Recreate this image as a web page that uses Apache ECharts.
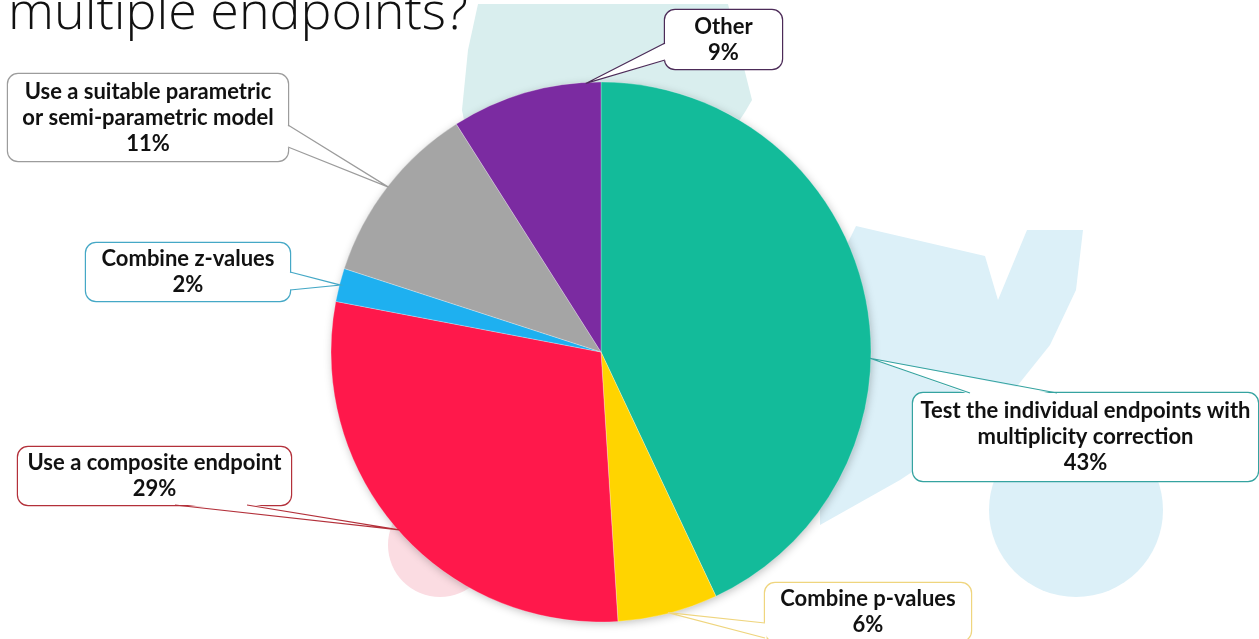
<!DOCTYPE html>
<html><head><meta charset="utf-8">
<script src="https://cdn.jsdelivr.net/npm/echarts@6/dist/echarts.min.js"></script>
<style>html,body{margin:0;padding:0;background:#fff;overflow:hidden}#c{width:1259px;height:639px}</style>
</head><body><div id="c"></div>
<script>
// ---- data ----
const titleText = 'multiple endpoints?';
const categories = [
  'Test the individual endpoints with\nmultiplicity correction',
  'Combine p-values',
  'Use a composite endpoint',
  'Combine z-values',
  'Use a suitable parametric\nor semi-parametric model',
  'Other'
];
const values = [43, 6, 29, 2, 11, 9];
const sliceColors = ['#13bb9a', '#ffd400', '#ff184b', '#1eb0f0', '#a5a5a5', '#7b2ba1'];
const calloutBorders = ['#35a3a0', '#efd57e', '#b3303a', '#45a8c6', '#9c9c9c', '#4c2b58'];

// ---- layout (callout boxes, pointer geometry) ----
const LH = 26;
const boxes = [
  {x: 913, y: 393, w: 345, h: 88, side: 'top',    b: [970, 1057], tip: 0.59},
  {x: 765, y: 583, w: 206, h: 58, side: 'left',   b: [623, 638],  tip: 0.5},
  {x: 18,  y: 447, w: 273, h: 58, side: 'bottom', b: [175, 247],  tip: 0.5},
  {x: 86,  y: 243, w: 204, h: 58, side: 'right',  b: [272, 290],  tip: 0.5},
  {x: 8,   y: 74,  w: 280, h: 87, side: 'right',  b: [125, 147],  tip: 0.5},
  {x: 665, y: 10,  w: 117, h: 59, side: 'left',   b: [43, 60],    tip: 0.9}
];

const chart = echarts.init(document.getElementById('c'), null, {renderer: 'canvas'});

const bgShapes = [
  {type: 'polygon', id: 'bg1', z: 0, silent: true,
   shape: {points: [[478,4],[728,4],[752,100],[745,112],[720,150],[470,150],[462,110],[468,50]]},
   style: {fill: '#d9eeee'}},
  {type: 'polygon', id: 'bg2', z: 0, silent: true,
   shape: {points: [[856,226],[985,256],[998,300],[1027,230],[1083,230],[1076,290],[1050,345],[1010,395],[960,440],[900,480],[820,525],[820,300]]},
   style: {fill: '#dcf0f8'}},
  {type: 'circle', id: 'bg3', z: 0, silent: true,
   shape: {cx: 1076, cy: 510, r: 87}, style: {fill: '#dcf0f8'}},
  {type: 'circle', id: 'bg4', z: 0, silent: true,
   shape: {cx: 440, cy: 545, r: 52}, style: {fill: '#fbdce2'}},
  {type: 'text', id: 'title', z: 1, silent: true, x: 8, y: 40,
   style: {text: titleText, font: '300 52px "Open Sans"', fill: '#111', verticalAlign: 'bottom'}}
];

const seriesData = categories.map((name, i) => {
  const b = boxes[i];
  const lines = (name + '\nx').split('\n').length;
  const pv = Math.max(0, (b.h - lines * LH) / 2);
  const ph = 4;
  return {
    name: name,
    value: values[i],
    itemStyle: {color: sliceColors[i]},
    label: {
      width: b.w - 2 * ph,
      padding: [pv, ph],
      borderColor: calloutBorders[i]
    }
  };
});

const option = {
  animation: false,
  backgroundColor: '#fff',
  graphic: {elements: bgShapes},
  series: [{
    type: 'pie',
    z: 5,
    center: [601, 352],
    radius: 270,
    startAngle: 90,
    clockwise: true,
    avoidLabelOverlap: false,
    itemStyle: {borderColor: 'rgba(255,255,255,0.45)', borderWidth: 0.6},
    label: {
      show: true,
      position: 'outside',
      overflow: 'none',
      formatter: p => p.name + '\n' + p.value + '%',
      fontFamily: 'Lato',
      fontWeight: 'bold',
      fontSize: 22,
      lineHeight: LH,
      color: '#111',
      align: 'center',
      backgroundColor: '#fff',
      borderWidth: 1.2,
      borderRadius: 10
    },
    labelLine: {show: false},
    labelLayout: function (params) {
      const b = boxes[params.dataIndex];
      return {x: b.x + b.w / 2, y: b.y + b.h / 2, align: 'center', verticalAlign: 'middle'};
    },
    emphasis: {disabled: true},
    data: seriesData
  }]
};
chart.setOption(option);

function basePoints(b) {
  const e = 1.6;
  if (b.side === 'top') return [[b.b[0], b.y], [b.b[1], b.y], [b.b[0], b.y + e], [b.b[1], b.y + e]];
  if (b.side === 'bottom') return [[b.b[0], b.y + b.h], [b.b[1], b.y + b.h], [b.b[0], b.y + b.h - e], [b.b[1], b.y + b.h - e]];
  if (b.side === 'left') return [[b.x, b.b[0]], [b.x, b.b[1]], [b.x + e, b.b[0]], [b.x + e, b.b[1]]];
  return [[b.x + b.w, b.b[0]], [b.x + b.w, b.b[1]], [b.x + b.w - e, b.b[0]], [b.x + b.w - e, b.b[1]]];
}

function drawPointers() {
  const data = chart.getModel().getSeriesByIndex(0).getData();
  const els = bgShapes.slice();
  const L0 = data.getItemLayout(0);
  els.push({type: 'circle', id: 'pieShadow', z: 1, silent: true,
    shape: {cx: L0.cx, cy: L0.cy, r: L0.r - 1},
    style: {fill: '#fff', shadowBlur: 10, shadowColor: 'rgba(0,0,0,0.28)', shadowOffsetX: 1, shadowOffsetY: 2}});
  boxes.forEach((b, i) => {
    const L = data.getItemLayout(i);
    const a = L.startAngle + b.tip * (L.endAngle - L.startAngle);
    const tx = L.cx + (L.r - 1) * Math.cos(a);
    const ty = L.cy + (L.r - 1) * Math.sin(a);
    const p = basePoints(b);
    els.push({type: 'polygon', id: 'wf' + i, z: 100, silent: true,
      shape: {points: [p[2], [tx, ty], p[3]]}, style: {fill: '#fff'}});
    els.push({type: 'polyline', id: 'wl' + i, z: 101, silent: true,
      shape: {points: [p[0], [tx, ty], p[1]]},
      style: {stroke: calloutBorders[i], lineWidth: 1.2, fill: null, lineJoin: 'miter'}});
  });
  chart.setOption({graphic: {elements: els}});
}
drawPointers();
</script>
</body></html>
